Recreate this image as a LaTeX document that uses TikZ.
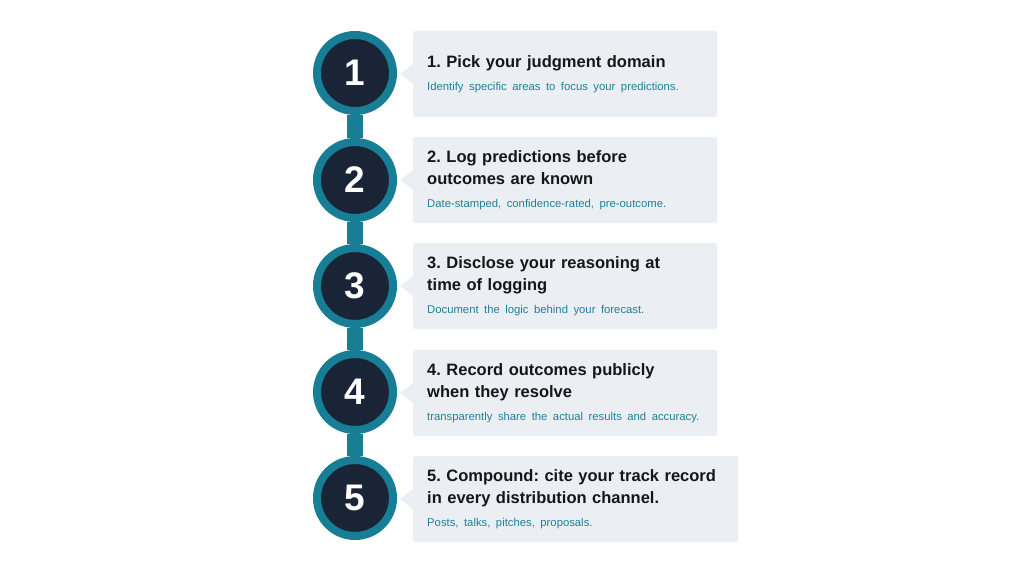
\documentclass[tikz,border=0pt]{standalone}
\usepackage{fontspec}
\setmainfont{Liberation Sans}
\usepackage{xcolor}
\usepackage{tikz}
\usetikzlibrary{positioning,backgrounds,calc}
\definecolor{ringteal}{RGB}{24,126,150}
\definecolor{disknavy}{RGB}{25,37,55}
\definecolor{cardgray}{RGB}{235,239,243}
\definecolor{noteteal}{RGB}{32,128,150}
\definecolor{headink}{RGB}{22,22,24}
\newcommand{\cardnote}[1]{{\fontsize{11.3}{14}\selectfont\mdseries\color{noteteal}#1}}

\begin{document}
\frenchspacing
\begin{tikzpicture}[x=1pt,y=-1pt,
disk/.style={circle, fill=disknavy, draw=ringteal, line width=8pt,
minimum size=76pt, inner sep=0pt, text=white,
font=\fontsize{37}{37}\selectfont\bfseries},
card/.style={anchor=west, fill=cardgray, rounded corners=2pt,
minimum height=86pt, text width=276pt, inner xsep=14pt, align=left,
text=headink, font=\fontsize{16.5}{22.5}\selectfont\bfseries},
stem/.style={draw=ringteal, line width=16pt}
]
\useasboundingbox (0,0) rectangle (1024,572);

\node[disk] (c1) at (355,73)  {1};
\node[disk] (c2) at (355,180) {2};
\node[disk] (c3) at (355,286) {3};
\node[disk] (c4) at (355,392) {4};
\node[disk] (c5) at (355,498) {5};

\node[card] (b1) at (413,74)
{1. Pick your judgment domain\\
\cardnote{Identify specific areas to focus your predictions.}};
\node[card] (b2) at (413,180)
{2. Log predictions before\\outcomes are known\\
\cardnote{Date-stamped, confidence-rated, pre-outcome.}};
\node[card] (b3) at (413,286)
{3. Disclose your reasoning at\\time of logging\\
\cardnote{Document the logic behind your forecast.}};
\node[card] (b4) at (413,393)
{4. Record outcomes publicly\\when they resolve\\
\cardnote{transparently share the actual results and accuracy.}};
\node[card, text width=297pt] (b5) at (413,499)
{5. Compound: cite your track record\\in every distribution channel.\\
\cardnote{Posts, talks, pitches, proposals.}};

% pointers from cards to disks
\fill[cardgray] ([yshift=10pt]b1.west) -- ([xshift=-13pt]b1.west) -- ([yshift=-10pt]b1.west) -- cycle;
\fill[cardgray] ([yshift=10pt]b2.west) -- ([xshift=-13pt]b2.west) -- ([yshift=-10pt]b2.west) -- cycle;
\fill[cardgray] ([yshift=10pt]b3.west) -- ([xshift=-13pt]b3.west) -- ([yshift=-10pt]b3.west) -- cycle;
\fill[cardgray] ([yshift=10pt]b4.west) -- ([xshift=-13pt]b4.west) -- ([yshift=-10pt]b4.west) -- cycle;
\fill[cardgray] ([yshift=10pt]b5.west) -- ([xshift=-13pt]b5.west) -- ([yshift=-10pt]b5.west) -- cycle;

\begin{scope}[on background layer]
\draw[stem] (c1) -- (c2);
\draw[stem] (c2) -- (c3);
\draw[stem] (c3) -- (c4);
\draw[stem] (c4) -- (c5);
\end{scope}

\end{tikzpicture}
\end{document}
